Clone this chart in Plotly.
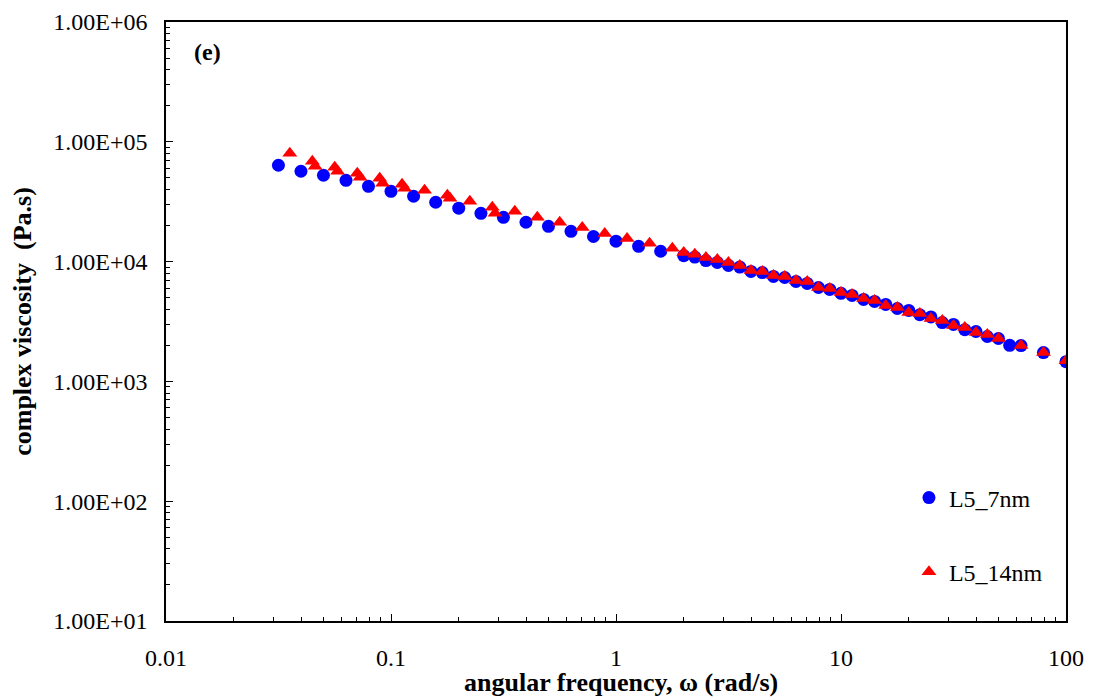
import plotly.graph_objects as go

# ---- data ----
# L5_7nm (blue circles)
freq_7nm = [0.0316, 0.0398, 0.0501, 0.0631, 0.0794, 0.1, 0.126, 0.158, 0.2, 0.251,
            0.316, 0.398, 0.501, 0.631, 0.794, 1.0, 1.26, 1.58, 2.0, 2.51,
            3.16, 3.98, 5.01, 6.31, 7.94, 10.0, 12.6, 15.8, 20.0, 25.1,
            31.6, 39.8, 50.1, 63.1, 79.4, 100.0,
            2.24, 2.82, 3.55, 4.47, 5.62, 7.08, 8.91, 11.2, 14.1, 17.8,
            22.4, 28.2, 35.5, 44.7, 56.2]
visc_7nm = [63700, 56800, 52600, 47700, 42500, 38600, 35100, 31300, 27900, 25300,
            23400, 21300, 19700, 17900, 16200, 14800, 13400, 12200, 11200, 10200,
            9290, 8280, 7520, 6830, 6080, 5430, 4830, 4390, 3910, 3450,
            2990, 2610, 2280, 1990, 1740, 1460,
            10900, 9850, 9000, 8100, 7370, 6570, 5860, 5220, 4650, 4060,
            3600, 3100, 2700, 2370, 2000]

# L5_14nm (red triangles)
freq_14nm = [0.0355, 0.0447, 0.0562, 0.0708, 0.0891, 0.112, 0.141, 0.178, 0.224, 0.282,
             0.355, 0.447, 0.562, 0.708, 0.891, 1.12, 1.41, 1.78, 2.24, 2.82,
             3.55, 4.47, 5.62, 7.08, 8.91, 11.2, 14.1, 17.8, 22.4, 28.2,
             35.5, 44.7,
             0.046, 0.0579, 0.0729, 0.0918, 0.115, 0.183, 0.29,
             2.0, 2.51, 3.16, 3.98, 5.01, 6.31, 7.94, 10.0, 12.6, 15.8,
             20.0, 25.1, 31.6, 39.8, 50.1, 63.1, 79.4, 100.0]
visc_14nm = [80300, 68800, 61300, 54600, 49600, 44200, 39400, 35800, 31900, 28400,
             26300, 23400, 21300, 19300, 17200, 15600, 14200, 12900, 11500, 10400,
             9290, 8280, 7520, 6830, 5970, 5320, 4740, 4140, 3690, 3220,
             2820, 2460,
             62500, 56800, 50600, 45000, 40900, 33800, 25300,
             11900, 10800, 9850, 8440, 7670, 6960, 6080, 5530, 4920, 4300,
             3760, 3350, 2930, 2560, 2280, 1990, 1740, 1490]

y_tickvals = [10, 100, 1000, 10000, 100000, 1000000]
y_ticktext = ["1.00E+01", "1.00E+02", "1.00E+03", "1.00E+04", "1.00E+05", "1.00E+06"]
x_tickvals = [0.01, 0.1, 1, 10, 100]
x_ticktext = ["0.01", "0.1", "1", "10", "100"]

FONT = "Liberation Serif, Times New Roman, serif"


def minor_positions(lo_exp, hi_exp):
    vals = []
    for e in range(lo_exp, hi_exp):
        for m in range(2, 10):
            vals.append(m * 10.0 ** e)
    return vals


fig = go.Figure()
fig.add_trace(go.Scatter(
    x=freq_7nm, y=visc_7nm, mode="markers", name="L5_7nm",
    legendgroup="a",
    marker=dict(symbol="circle", size=13, color="#0000FF", line=dict(width=0)),
))
fig.add_trace(go.Scatter(
    x=freq_14nm, y=visc_14nm, mode="markers", name="L5_14nm",
    legendgroup="b",
    marker=dict(symbol="triangle-up", size=13, color="#FF0000", line=dict(width=0)),
))

axis_common = dict(
    type="log",
    showgrid=False,
    zeroline=False,
    showline=True,
    linecolor="black",
    linewidth=1.5,
    mirror=True,
    ticks="inside",
    ticklen=7,
    tickwidth=1,
    tickcolor="black",
    tickfont=dict(family=FONT, size=24, color="black"),
    automargin=False,
)

fig.update_xaxes(
    **axis_common,
    range=[-2, 2],
    tickmode="array",
    tickvals=x_tickvals,
    ticktext=x_ticktext,
    ticklabelstandoff=14,
    minor=dict(ticks="inside", ticklen=4, tickcolor="black", showgrid=False,
               tickmode="array", tickvals=minor_positions(-2, 2)),
)
fig.update_yaxes(
    **axis_common,
    range=[1, 6],
    tickmode="array",
    tickvals=y_tickvals,
    ticktext=y_ticktext,
    ticklabelstandoff=12,
    minor=dict(ticks="inside", ticklen=4, tickcolor="black", showgrid=False,
               tickmode="array", tickvals=minor_positions(1, 6)),
    title=dict(text="<b>complex viscosity  (Pa.s)</b>",
               font=dict(family=FONT, size=26, color="black"), standoff=14),
)

# x-axis title placed as annotation for exact vertical placement
fig.add_annotation(
    x=0.505, y=-0.1035, xref="paper", yref="paper",
    text="<b>angular frequency, ω (rad/s)</b>", showarrow=False,
    font=dict(family=FONT, size=26, color="black"),
    xanchor="center", yanchor="middle",
)

fig.add_annotation(
    x=0.029, y=0.95, xref="paper", yref="paper",
    text="<b>(e)</b>", showarrow=False,
    font=dict(family=FONT, size=24, color="black"),
    xanchor="left", yanchor="middle",
)

fig.update_layout(
    width=1097, height=700,
    margin=dict(l=166, r=31, t=22, b=79),
    paper_bgcolor="white",
    plot_bgcolor="white",
    font=dict(family=FONT, color="black"),
    showlegend=True,
    legend=dict(
        x=0.8255, y=0.243, xanchor="left", yanchor="top",
        bgcolor="rgba(0,0,0,0)",
        font=dict(family=FONT, size=24, color="black"),
        traceorder="grouped",
        tracegroupgap=40,
        itemwidth=30,
    ),
)

fig.write_html("out.html")
